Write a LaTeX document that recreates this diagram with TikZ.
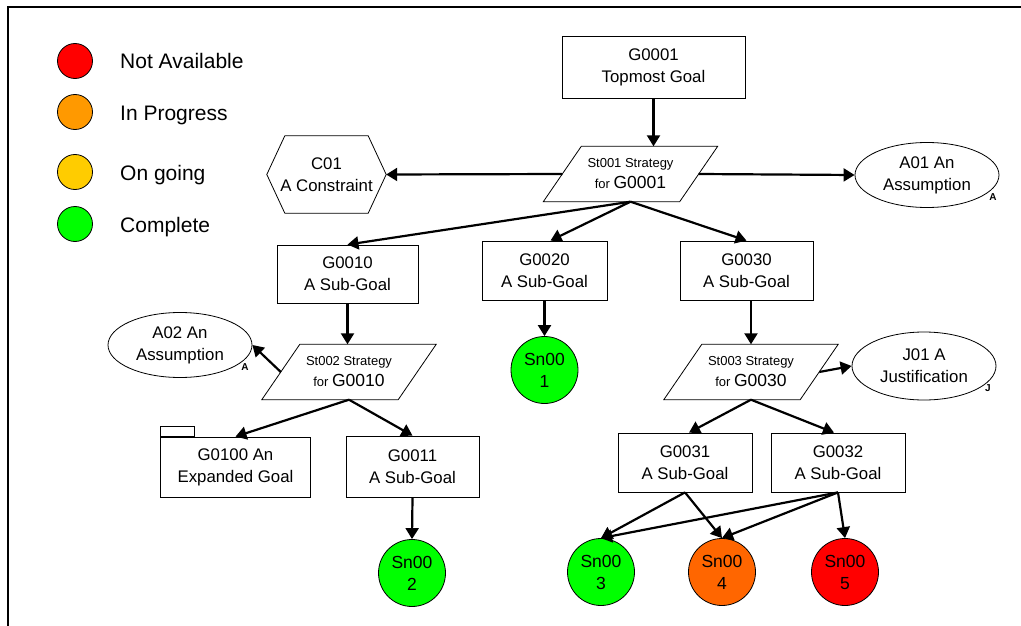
\documentclass[tikz,border=0pt]{standalone}
\usepackage{fontspec}
\setmainfont{Liberation Sans}
\usetikzlibrary{shapes.geometric,arrows.meta}
\definecolor{navail}{HTML}{FF0000}
\definecolor{inprog}{HTML}{FF9900}
\definecolor{ongo}{HTML}{FFCC00}
\definecolor{compl}{HTML}{00FF00}
\definecolor{snorange}{HTML}{FF6600}
\newcommand\gsnfont{\fontsize{16.8}{22}\selectfont}
\newcommand\stsmall{\fontsize{13}{15}\selectfont}
\newcommand\stbig{\fontsize{17.5}{20}\selectfont}
\newcommand\paralbox[1]{\draw[line width=0.8pt] ([xshift=19pt]#1.north west) -- ([xshift=19pt]#1.north east)
   -- ([xshift=-19pt]#1.south east) -- ([xshift=-19pt]#1.south west) -- cycle;}
\begin{document}
\begin{tikzpicture}[x=1pt,y=-1pt,
  goal/.style={draw, line width=0.8pt, rectangle, inner sep=0pt, align=center, font=\gsnfont},
  strat/.style={rectangle, minimum width=136, minimum height=55, inner sep=0pt, align=center},
  assum/.style={draw, line width=0.8pt, ellipse, inner sep=0pt, minimum width=144, minimum height=65, align=center, font=\gsnfont},
  soln/.style={draw, line width=0.8pt, circle, inner sep=0pt, minimum size=67, align=center, font=\fontsize{17.5}{22}\selectfont},
  legc/.style={draw, line width=0.8pt, circle, inner sep=0pt, minimum size=35},
  legt/.style={anchor=base west, font=\fontsize{21}{25}\selectfont, inner sep=0pt},
  tag/.style={font=\bfseries\fontsize{10}{12}\selectfont, inner sep=0pt},
  conn/.style={line width=2.2pt, -{Triangle[length=11pt,width=13pt]}}
]
\useasboundingbox (0,0) rectangle (1021,626);
\draw[line width=2pt] (8,626) -- (8,7) -- (1021,7);

% legend
\node[legc, fill=navail] (L1) at (75,61) {};
\node[legc, fill=inprog] (L2) at (75,112) {};
\node[legc, fill=ongo] (L3) at (75,172) {};
\node[legc, fill=compl] (L4) at (75,224) {};
\node[legt] (L1t) at (120,69) {Not Available};
\node[legt] (L2t) at (120,121) {In Progress};
\node[legt] (L3t) at (120,180) {On going};
\node[legt] (L4t) at (120,232) {Complete};

% nodes
\node[goal, minimum width=183, minimum height=62] (G0001) at (653.5,67) {G0001\\Topmost Goal};
\node[strat] (St001) at (630.5,174) {\stsmall St001 Strategy\\[5pt]\stsmall for \stbig G0001};
\paralbox{St001}
\node[rectangle, inner sep=0pt, minimum width=119, minimum height=77, align=center, font=\gsnfont] (C01) at (326.5,174.5) {C01\\A Constraint};
\draw[line width=0.8pt] (C01.west) -- ([xshift=18pt]C01.north west) -- ([xshift=-18pt]C01.north east)
   -- (C01.east) -- ([xshift=-18pt]C01.south east) -- ([xshift=18pt]C01.south west) -- cycle;
\node[assum] (A01) at (927,175) {A01 An\\Assumption};
\node[tag] (A01t) at (993,197) {A};

\node[goal, minimum width=141, minimum height=58] (G0010) at (347.5,274) {G0010\\A Sub-Goal};
\node[goal, minimum width=125, minimum height=59] (G0020) at (544.5,270.5) {G0020\\A Sub-Goal};
\node[goal, minimum width=133, minimum height=59] (G0030) at (746.5,270.5) {G0030\\A Sub-Goal};

\node[strat] (St002) at (349,372) {\stsmall St002 Strategy\\[5pt]\stsmall for \stbig G0010};
\paralbox{St002}
\node[assum] (A02) at (180,345) {A02 An\\Assumption};
\node[tag] (A02t) at (245,367) {A};
\node[soln, fill=compl] (Sn001) at (544.5,370) {Sn00\\1};
\node[strat] (St003) at (751,372) {\stsmall St003 Strategy\\[5pt]\stsmall for \stbig G0030};
\paralbox{St003}
\node[assum, minimum height=68] (J01) at (924,366) {J01 A\\Justification};
\node[tag] (J01t) at (988,388) {J};

\node[goal, minimum width=150, minimum height=60] (G0100) at (235.5,467) {G0100 An\\Expanded Goal};
\draw[line width=0.8pt] (G0100.north west) rectangle ++(34,-10);
\node[goal, minimum width=133, minimum height=61] (G0011) at (412.5,466.5) {G0011\\A Sub-Goal};
\node[goal, minimum width=134, minimum height=59] (G0031) at (685,462.5) {G0031\\A Sub-Goal};
\node[goal, minimum width=134, minimum height=59] (G0032) at (838,462.5) {G0032\\A Sub-Goal};

\node[soln, fill=compl] (Sn002) at (412,573) {Sn00\\2};
\node[soln, fill=compl] (Sn003) at (601,572) {Sn00\\3};
\node[soln, fill=snorange] (Sn004) at (722,572) {Sn00\\4};
\node[soln, fill=navail] (Sn005) at (845,572) {Sn00\\5};

% connectors
\draw[conn] (G0001.south) -- (G0001.south |- St001.north);
\draw[conn] (St001.west) -- (C01.east);
\draw[conn] (St001.east) -- (A01.west);
\draw[conn] (St001.south) -- (G0010.north);
\draw[conn] (St001.south) -- ([xshift=6pt]G0020.north);
\draw[conn] (St001.south) -- (G0030.north);
\draw[conn] (G0010.south) -- (G0010.south |- St002.north);
\draw[conn] (St002.west) -- (A02.east);
\draw[conn] (St002.south) -- (G0100.north);
\draw[conn] (St002.south) -- (G0011.north);
\draw[conn] (G0020.south) -- (Sn001.north);
\draw[conn] (St003.north |- G0030.south) -- (St003.north);
\draw[conn] (St003.east) -- (J01.west);
\draw[conn] (St003.south) -- ([xshift=4pt]G0031.north);
\draw[conn] (St003.south) -- ([xshift=-4pt]G0032.north);
\draw[conn] (G0011.south) -- (Sn002.north);
\draw[conn] (G0031.south) -- (Sn003.north);
\draw[conn] (G0031.south) -- (Sn004.north);
\draw[conn] (G0032.south) -- (Sn003.north);
\draw[conn] (G0032.south) -- (Sn004.north);
\draw[conn] (G0032.south) -- (Sn005.north);
\end{tikzpicture}
\end{document}
